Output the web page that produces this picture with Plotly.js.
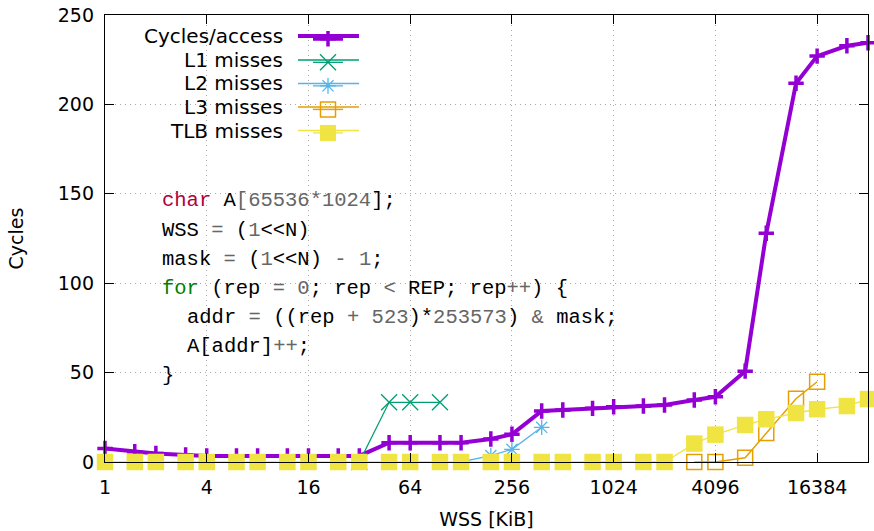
<!DOCTYPE html>
<html>
<head>
<meta charset="utf-8">
<script src="https://cdn.plot.ly/plotly-3.0.1.min.js"></script>
<style>html,body{margin:0;padding:0;background:#fff}#chart{width:874px;height:531px}</style>
</head>
<body>
<div id="chart"></div>
<script>
// WSS values in KiB
const wss = [1,1.5,2,3,4,6,8,12,16,24,32,48,64,96,128,192,256,384,512,768,1024,1536,2048,3072,4096,6144,8192,12288,16384,24576,32768];
const cycles = [7.6,5.8,4.8,3.9,3.4,3.4,3.4,3.4,3.4,3.4,3.4,10.8,10.8,10.8,10.8,12.9,15.5,28.5,29.1,30.0,30.9,31.3,31.9,34.7,36.5,50.8,127.9,211.8,227,232.8,234.5];
const l1Wss = [32,48,64,96];
const l1Misses = [0,33.4,33.4,33.4];
const l2Wss = [128,192,256,384];
const l2Misses = [0,3.6,7.1,19.4];
const l3Wss = [3072,4096,6144,8192,12288,16384];
const l3Misses = [0,0,2.4,16.2,35.4,44.9];
const tlbMisses = [0,0,0,0,0,0,0,0,0,0,0,0,0,0,0,0,0,0,0,0,0,0,0,10.3,15.3,20.7,23.9,27.4,29.5,31.3,35.2];
const seriesNames = ['Cycles/access','L1 misses','L2 misses','L3 misses','TLB misses'];
const xTicks = [1,4,16,64,256,1024,4096,16384];
const yTicks = [0,50,100,150,200,250];

const colors = ['#9400d3','#009e73','#56b4e9','#e69f00','#f0e442'];

const traces = [
  {x: wss, y: cycles, mode:'lines+markers', name:'', cliponaxis:false,
   line:{color:colors[0], width:4},
   marker:{symbol:'cross-thin-open', size:11, color:colors[0], line:{color:colors[0], width:3.5}}},
  {x: l1Wss, y: l1Misses, mode:'lines+markers', name:'', cliponaxis:false,
   line:{color:colors[1], width:1.3},
   marker:{symbol:'x-thin-open', size:16, color:colors[1], line:{color:colors[1], width:1.3}}},
  {x: l2Wss, y: l2Misses, mode:'lines+markers', name:'', cliponaxis:false,
   line:{color:colors[2], width:1.3},
   marker:{symbol:'asterisk-open', size:13, color:colors[2], line:{color:colors[2], width:1.3}}},
  {x: l3Wss, y: l3Misses, mode:'lines+markers', name:'', cliponaxis:false,
   line:{color:colors[3], width:1.5},
   marker:{symbol:'square-open', size:15, color:colors[3], line:{color:colors[3], width:1.5}}},
  {x: wss, y: tlbMisses, mode:'lines+markers', name:'', cliponaxis:false,
   line:{color:colors[4], width:1.3},
   marker:{symbol:'square', size:16.5, color:colors[4], line:{width:0}}}
];

// pixel helpers for the paper-space decorations
const L=105, R=868, T=15, B=462;
const px = v => (v - L)/(R - L);
const py = v => (B - v)/(B - T);

const codeFont = {family:'Liberation Mono, DejaVu Sans Mono, monospace', size:20.5, color:'#000'};
const G = s => '<span style="color:#666666">'+s+'</span>';
const codeLines = [
  ['<span style="color:#b00040">char</span> A'+G('[65536*1024')+'];', 161, 200],
  ['WSS '+G('=')+' ('+G('1')+'&lt;&lt;N)', 161, 230],
  ['mask '+G('=')+' ('+G('1')+'&lt;&lt;N) '+G('-')+' '+G('1')+';', 161, 259],
  ['<span style="color:#008000">for</span> (rep '+G('=')+' '+G('0')+'; rep '+G('&lt;')+' REP; rep'+G('++')+') {', 161, 288],
  ['addr '+G('=')+' ((rep '+G('+')+' '+G('523')+')*'+G('253573')+') '+G('&amp;')+' mask;', 186, 317],
  ['A[addr]'+G('++')+';', 186, 346],
  ['}', 161, 375]
];

const annotations = codeLines.map(c => ({
  xref:'paper', yref:'paper', x:px(c[1]), y:py(c[2]), xanchor:'left', yanchor:'middle',
  text:c[0], showarrow:false, font:codeFont, align:'left', borderpad:0
}));

const legendRows = [36, 60, 83.5, 107, 130.5];
seriesNames.forEach((n,i) => annotations.push({
  xref:'paper', yref:'paper', x:px(284), y:py(legendRows[i]), xanchor:'right', yanchor:'middle',
  text:n, showarrow:false, font:{family:'DejaVu Sans, sans-serif', size:20, color:'#000'}, borderpad:0
}));

const shapes = legendRows.map((r,i) => ({
  type:'line', xref:'paper', yref:'paper', x0:px(298), x1:px(359), y0:py(r), y1:py(r),
  line:{color:colors[i], width:[4,1.3,1.3,1.5,1.3][i]}
}));

const axisFont = {family:'DejaVu Sans, sans-serif', size:19, color:'#000'};

const layout = {
  width:874, height:531,
  margin:{l:L, r:874-R, t:T, b:531-B},
  paper_bgcolor:'#fff', plot_bgcolor:'#fff',
  font:axisFont,
  showlegend:true,
  legend:{x:px(308), y:py(22), xanchor:'left', yanchor:'top', bgcolor:'rgba(0,0,0,0)', borderwidth:0,
          font:{family:'DejaVu Sans, sans-serif', size:15.8}, itemwidth:30, tracegroupgap:0},
  xaxis:{type:'log', range:[0, Math.log10(32768)], tickvals:xTicks, ticktext:xTicks.map(String),
         ticks:'inside', ticklen:9, tickwidth:1, tickcolor:'#000', showline:true, linecolor:'#000', linewidth:1.2,
         mirror:'ticks', showgrid:true, gridcolor:'#a8a8a8', gridwidth:1, griddash:'1px,4px',
         zeroline:false, tickfont:axisFont, ticklabelstandoff:8,
         title:{text:'WSS [KiB]', font:axisFont, standoff:15}},
  yaxis:{range:[0,250], tickvals:yTicks, ticks:'inside', ticklen:9, tickwidth:1, tickcolor:'#000',
         showline:true, linecolor:'#000', linewidth:1.2, mirror:'ticks',
         showgrid:true, gridcolor:'#a8a8a8', gridwidth:1, griddash:'1px,4px', zeroline:false,
         tickfont:axisFont, ticklabelstandoff:6,
         title:{text:'Cycles', font:axisFont, standoff:29}},
  annotations:annotations,
  shapes:shapes
};

Plotly.newPlot('chart', traces, layout, {displayModeBar:false, staticPlot:true});
</script>
</body>
</html>
